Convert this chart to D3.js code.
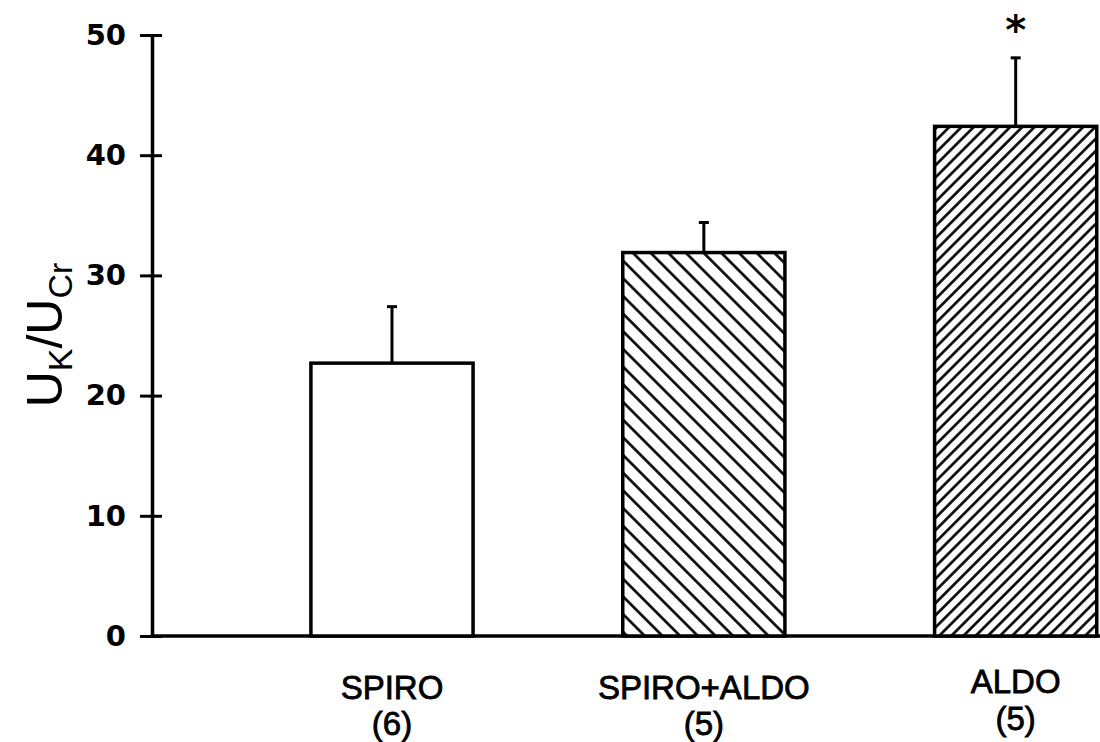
<!DOCTYPE html>
<html>
<head>
<meta charset="utf-8">
<script src="https://cdn.jsdelivr.net/npm/d3@7"></script>
<style>
  body { margin: 0; background: #fff; }
  svg { display: block; }
</style>
</head>
<body>
<script>
// values
var groups = ["SPIRO", "SPIRO+ALDO", "ALDO"]
var counts = ["(6)", "(5)", "(5)"]
var means = [22.7, 31.9, 42.4]
var errs = [4.7, 2.5, 5.7]
var fills = ["none", "back", "fwd"]
var marks = ["", "", "*"]
var yTicks = [0, 10, 20, 30, 40, 50]

var screen = {width: 1100, height: 742}
var margins = {top: 35, bottom: 106, left: 152, right: 0}

var svg = d3.select("body")
    .append("svg")
    .attr("width", screen.width)
    .attr("height", screen.height)

// hatch patterns
var defs = svg.append("defs")
var hatch = function(id, angle, gap)
{
    var p = defs.append("pattern")
        .attr("id", id)
        .attr("patternUnits", "userSpaceOnUse")
        .attr("width", gap)
        .attr("height", gap)
        .attr("patternTransform", "rotate(" + angle + ")")
    p.append("rect").attr("width", gap).attr("height", gap).attr("fill", "#fff")
    p.append("line")
        .attr("x1", gap / 2).attr("y1", 0)
        .attr("x2", gap / 2).attr("y2", gap)
        .attr("stroke", "#000")
        .attr("stroke-width", 2.6)
}
hatch("back", -45, 12.5)
hatch("fwd", 45, 8.6)

var yScale = d3.scaleLinear()
    .domain([0, 50])
    .range([636, margins.top])

var xScale = d3.scaleBand()
    .domain(groups)
    .range([margins.left, screen.width])
    .paddingInner(0.48)
    .paddingOuter(0.26)
    .align(0.98)

// y axis
var yAxis = d3.axisLeft(yScale)
    .tickValues(yTicks)
    .tickSizeInner(12)
    .tickSizeOuter(0)
    .tickPadding(14)

var ga = svg.append("g")
    .attr("id", "yAxis")
    .attr("transform", "translate(" + margins.left + ",0)")
    .call(yAxis)

ga.select(".domain").attr("stroke", "#000").attr("stroke-width", 3.5)
ga.selectAll(".tick line")
    .attr("x1", -12).attr("x2", 10)
    .attr("stroke", "#000").attr("stroke-width", 3)
ga.selectAll(".tick text")
    .attr("fill", "#000")
    .style("font-family", "'DejaVu Sans', sans-serif")
    .style("font-weight", "bold")
    .style("font-size", "29px")

// baseline
svg.append("line")
    .attr("x1", margins.left)
    .attr("x2", screen.width)
    .attr("y1", yScale(0))
    .attr("y2", yScale(0))
    .attr("stroke", "#000")
    .attr("stroke-width", 3.5)

var rows = groups.map(function(g, i) {
    return {g: g, n: counts[i], m: means[i], e: errs[i], f: fills[i], s: marks[i]}
})

var bars = svg.append("g").attr("id", "bars")
    .selectAll("g")
    .data(rows)
    .enter()
    .append("g")

// error bars first, bar box covers the bottom
bars.append("line")
    .attr("x1", function(d) { return xScale(d.g) + xScale.bandwidth() / 2 })
    .attr("x2", function(d) { return xScale(d.g) + xScale.bandwidth() / 2 })
    .attr("y1", function(d) { return yScale(d.m) })
    .attr("y2", function(d) { return yScale(d.m + d.e) })
    .attr("stroke", "#000")
    .attr("stroke-width", 3)

bars.append("line")
    .attr("x1", function(d) { return xScale(d.g) + xScale.bandwidth() / 2 - 5 })
    .attr("x2", function(d) { return xScale(d.g) + xScale.bandwidth() / 2 + 5 })
    .attr("y1", function(d) { return yScale(d.m + d.e) })
    .attr("y2", function(d) { return yScale(d.m + d.e) })
    .attr("stroke", "#000")
    .attr("stroke-width", 3)

bars.append("rect")
    .attr("x", function(d) { return xScale(d.g) })
    .attr("y", function(d) { return yScale(d.m) })
    .attr("width", xScale.bandwidth())
    .attr("height", function(d) { return yScale(0) - yScale(d.m) })
    .attr("fill", function(d) { return d.f == "none" ? "#fff" : "url(#" + d.f + ")" })
    .attr("stroke", "#000")
    .attr("stroke-width", 3.5)

bars.append("text")
    .attr("x", function(d) { return xScale(d.g) + xScale.bandwidth() / 2 })
    .attr("y", function(d) { return yScale(d.m + d.e) - 14 })
    .attr("text-anchor", "middle")
    .style("font-family", "'DejaVu Sans', sans-serif")
    .style("font-weight", "bold")
    .style("font-size", "40px")
    .text(function(d) { return d.s })

// category labels
var labelFont = "'Liberation Sans', Arial, sans-serif"
bars.append("text")
    .attr("x", function(d) { return xScale(d.g) + xScale.bandwidth() / 2 })
    .attr("y", function(d, i) { return i == 2 ? 693 : 699 })
    .attr("text-anchor", "middle")
    .style("font-family", labelFont)
    .style("font-size", "33px")
    .attr("stroke", "#000")
    .attr("stroke-width", 0.8)
    .text(function(d) { return d.g })

bars.append("text")
    .attr("x", function(d) { return xScale(d.g) + xScale.bandwidth() / 2 })
    .attr("y", function(d, i) { return i == 2 ? 730 : 735 })
    .attr("text-anchor", "middle")
    .style("font-family", labelFont)
    .style("font-size", "33px")
    .attr("stroke", "#000")
    .attr("stroke-width", 0.8)
    .text(function(d) { return d.n })

// y label U_K / U_Cr
var yl = svg.append("text")
    .attr("transform", "translate(62,335) rotate(-90)")
    .attr("text-anchor", "middle")
    .style("font-family", labelFont)
    .style("font-size", "50px")
yl.append("tspan").text("U")
yl.append("tspan").attr("dy", 10).style("font-size", "34px").text("K")
yl.append("tspan").attr("dy", -10).text("/U")
yl.append("tspan").attr("dy", 10).style("font-size", "34px").text("Cr")
</script>
</body>
</html>
